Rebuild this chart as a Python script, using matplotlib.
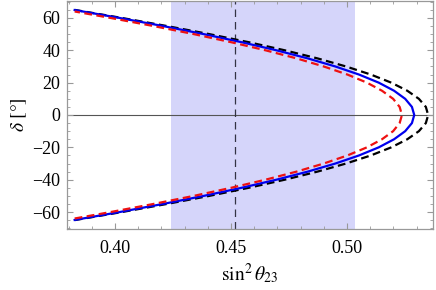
import matplotlib.pyplot as plt
from matplotlib.ticker import MultipleLocator

plt.rcParams["font.family"] = ["Liberation Serif", "DejaVu Serif"]
plt.rcParams["mathtext.fontset"] = "stix"

# delta [deg] and sin^2(theta23)
delta_black = [-65, -60, -55, -50, -45, -40, -35, -30, -25, -20, -15, -10, -5, 0,
               5, 10, 15, 20, 25, 30, 35, 40, 45, 50, 55, 60, 65]
s23_black = [0.3826, 0.4030, 0.4224, 0.4407, 0.4577, 0.4732, 0.4873, 0.4996, 0.5103,
             0.5191, 0.5260, 0.5310, 0.5340, 0.5350,
             0.5340, 0.5310, 0.5260, 0.5191, 0.5103, 0.4996, 0.4873, 0.4732, 0.4577,
             0.4407, 0.4224, 0.4030, 0.3826]

delta_blue = [-64.9, -60, -55, -50, -45, -40, -35, -30, -25, -20, -15, -10, -5, 0,
              5, 10, 15, 20, 25, 30, 35, 40, 45, 50, 55, 60, 64.9]
s23_blue = [0.3826, 0.4020, 0.4207, 0.4383, 0.4546, 0.4696, 0.4831, 0.4950, 0.5052,
            0.5137, 0.5203, 0.5251, 0.5280, 0.5290,
            0.5280, 0.5251, 0.5203, 0.5137, 0.5052, 0.4950, 0.4831, 0.4696, 0.4546,
            0.4383, 0.4207, 0.4020, 0.3826]

delta_red = [-64, -60, -55, -50, -45, -40, -35, -30, -25, -20, -15, -10, -5, 0,
             5, 10, 15, 20, 25, 30, 35, 40, 45, 50, 55, 60, 64]
s23_red = [0.3826, 0.3981, 0.4166, 0.4340, 0.4501, 0.4649, 0.4783, 0.4900, 0.5002,
           0.5086, 0.5151, 0.5199, 0.5227, 0.5237,
           0.5227, 0.5199, 0.5151, 0.5086, 0.5002, 0.4900, 0.4783, 0.4649, 0.4501,
           0.4340, 0.4166, 0.3981, 0.3826]

band = (0.4241, 0.5034)
best_fit = 0.4517

fig = plt.figure(figsize=(4.36, 2.90), dpi=100)
ax = fig.add_axes([0.1537, 0.2103, 0.8395, 0.7863])

ax.axvspan(band[0], band[1], color="#d5d5fa", lw=0, zorder=0)
ax.axhline(0, color="#555555", lw=0.8, zorder=1)
ax.axvline(best_fit, color="#333344", lw=0.9, ls=(0, (6, 4)), zorder=1)

ax.plot(s23_black, delta_black, color="black", lw=1.6, ls=(0, (3.5, 2)), zorder=3)
ax.plot(s23_blue, delta_blue, color="#0000ee", lw=1.6, zorder=4)
ax.plot(s23_red, delta_red, color="#ee1111", lw=1.6, ls=(0, (3.5, 2)), zorder=5)

ax.set_xlim(0.3793, 0.5371)
ax.set_ylim(-70.5, 70.5)
ax.xaxis.set_major_locator(MultipleLocator(0.05))
ax.xaxis.set_minor_locator(MultipleLocator(0.01))
ax.yaxis.set_major_locator(MultipleLocator(20))
ax.yaxis.set_minor_locator(MultipleLocator(5))
ax.xaxis.set_major_formatter(plt.FuncFormatter(lambda v, p: f"{v:.2f}"))
ax.yaxis.set_major_formatter(plt.FuncFormatter(lambda v, p: f"{v:.0f}".replace("-", "\u2212")))

ax.tick_params(which="both", direction="in", top=True, right=True, color="#999999",
               labelsize=13)
ax.tick_params(axis="x", pad=8)
ax.tick_params(axis="y", pad=5)
ax.tick_params(which="major", length=4, width=0.8)
ax.tick_params(which="minor", length=2.2, width=0.6)
for sp in ax.spines.values():
    sp.set_color("#999999")
    sp.set_linewidth(0.9)

ax.set_xlabel(r"$\sin^2\theta_{23}$", fontsize=14, labelpad=3)
ax.set_ylabel(r"$\delta\ [°]$", fontsize=14, labelpad=2)

plt.savefig("out.png", dpi=100)
